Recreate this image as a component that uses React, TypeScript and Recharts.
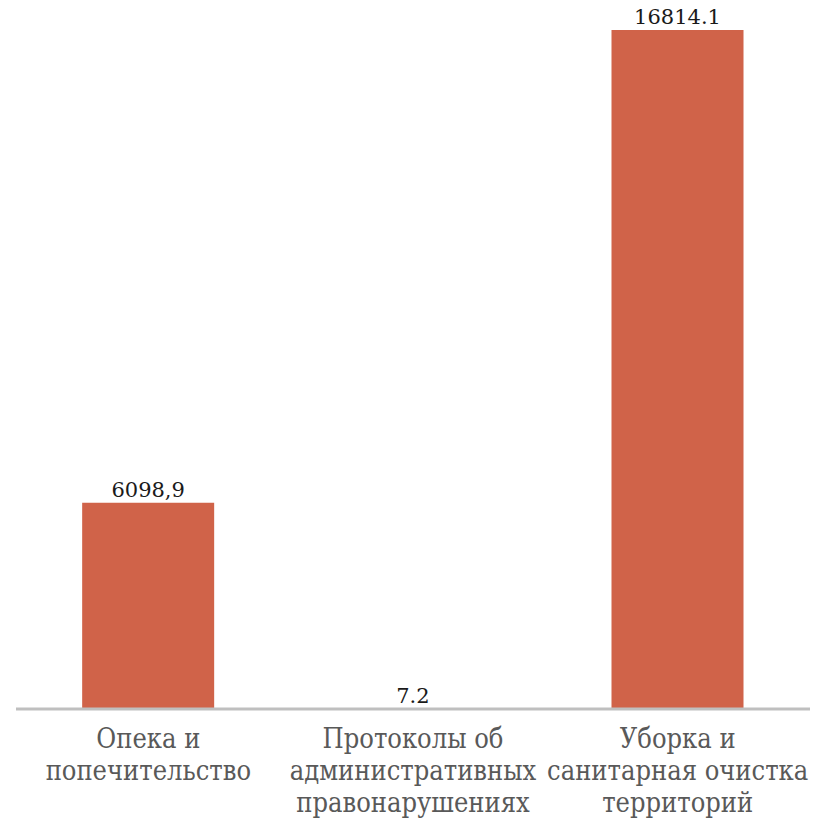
import React from "react";
import { BarChart, Bar, XAxis, YAxis, LabelList } from "recharts";

const categories: string[][] = [
  ["Опека и", "попечительство"],
  ["Протоколы об", "административных", "правонарушениях"],
  ["Уборка и", "санитарная очистка", "территорий"],
];
const barValues: number[] = [5110, 7.2, 16814.1];
const valueLabels: string[] = ["6098,9", "7.2", "16814.1"];

const data = categories.map((c, i) => ({
  name: c.join(" "),
  idx: i,
  value: barValues[i],
  label: valueLabels[i],
}));

const CategoryTick = (props: any) => {
  const { x, y, payload } = props;
  const lines = categories[payload.index] || [];
  return (
    <g>
      {lines.map((ln, i) => (
        <text
          key={i}
          x={x}
          y={y + 31 + i * 32}
          textAnchor="middle"
          style={{ fontFamily: "'DejaVu Serif Condensed', 'DejaVu Serif', serif", fontSize: 27 }}
          fill="#595959"
        >
          {ln}
        </text>
      ))}
    </g>
  );
};

export default function App() {
  return (
    <div style={{ position: "absolute", left: 0, top: 0, width: 823, height: 819, background: "#fff" }}>
      <BarChart
        width={823}
        height={819}
        data={data}
        margin={{ top: 30, right: 13, left: 16, bottom: 0 }}
        barCategoryGap="25%"
      >
        <XAxis
          dataKey="name"
          height={110}
          interval={0}
          tickLine={false}
          axisLine={{ stroke: "#BFBFBF", strokeWidth: 3 }}
          tick={<CategoryTick />}
        />
        <YAxis hide domain={[0, 16814.1]} />
        <Bar dataKey="value" fill="#D06349" isAnimationActive={false}>
          <LabelList
            dataKey="label"
            position="top"
            offset={6}
            style={{ fontFamily: "'DejaVu Serif', serif", fontSize: 21, fill: "#1a1a1a" }}
          />
        </Bar>
      </BarChart>
    </div>
  );
}
